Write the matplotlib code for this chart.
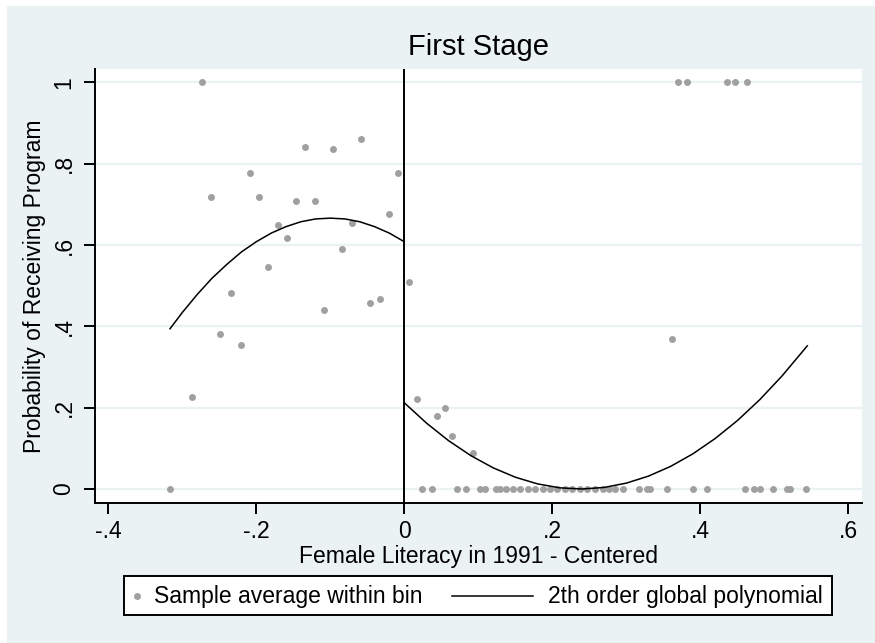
import matplotlib
matplotlib.use("Agg")
import matplotlib.pyplot as plt
from matplotlib.patches import Rectangle
from matplotlib.lines import Line2D

plt.rcParams['font.family'] = ['Liberation Sans', 'DejaVu Sans']

# ---- data ----
bin_x_left = [-0.3166, -0.2865, -0.274, -0.261, -0.249, -0.234, -0.221, -0.209,
              -0.196, -0.184, -0.171, -0.1585, -0.146, -0.134, -0.121, -0.1085,
              -0.096, -0.084, -0.071, -0.0585, -0.046, -0.033, -0.021, -0.0085]
bin_y_left = [0.0, 0.226, 1.0, 0.718, 0.381, 0.481, 0.353, 0.778,
              0.718, 0.545, 0.650, 0.618, 0.709, 0.841, 0.709, 0.440,
              0.837, 0.590, 0.654, 0.860, 0.458, 0.467, 0.677, 0.778]

bin_x_right = [0.0064, 0.0168, 0.0242, 0.037, 0.044, 0.0546, 0.0645, 0.0716, 0.083,
               0.0924, 0.1023, 0.1095, 0.1235, 0.129, 0.1374, 0.147, 0.157, 0.167,
               0.177, 0.187, 0.197, 0.2068, 0.2168, 0.2266, 0.2374, 0.2473, 0.2573,
               0.269, 0.277, 0.285, 0.295, 0.3176, 0.3276, 0.332, 0.3546, 0.362,
               0.3694, 0.3824, 0.3897, 0.4095, 0.4357, 0.4473, 0.4604, 0.4627,
               0.473, 0.4807, 0.4978, 0.5168, 0.521, 0.5424]
bin_y_right = [0.508, 0.221, 0.0, 0.0, 0.180, 0.199, 0.131, 0.0, 0.0,
               0.089, 0.0, 0.0, 0.0, 0.0, 0.0, 0.0, 0.0, 0.0,
               0.0, 0.0, 0.0, 0.0, 0.0, 0.0, 0.0, 0.0, 0.0,
               0.0, 0.0, 0.0, 0.0, 0.0, 0.0, 0.0, 0.0, 0.368,
               1.0, 1.0, 0.0, 0.0, 1.0, 1.0, 0.0, 1.0,
               0.0, 0.0, 0.0, 0.0, 0.0, 0.0]

fit_x_left = [-0.3166, -0.30, -0.28, -0.26, -0.24, -0.22, -0.20, -0.18, -0.16,
              -0.14, -0.12, -0.10, -0.08, -0.06, -0.04, -0.02, 0.0]
fit_y_left = [0.394, 0.434, 0.478, 0.518, 0.552, 0.583, 0.608, 0.629, 0.645,
              0.657, 0.664, 0.666, 0.664, 0.657, 0.645, 0.629, 0.608]

fit_x_right = [0.0, 0.03, 0.06, 0.09, 0.12, 0.15, 0.18, 0.21, 0.24, 0.27,
               0.30, 0.33, 0.36, 0.39, 0.42, 0.45, 0.48, 0.51, 0.5446]
fit_y_right = [0.212, 0.162, 0.1186, 0.082, 0.0521, 0.029, 0.0126, 0.0029, 0.0, 0.0038,
               0.0144, 0.0317, 0.0557, 0.0865, 0.124, 0.168, 0.219, 0.277, 0.352]

x_ticks = [-0.4, -0.2, 0.0, 0.2, 0.4, 0.6]
x_tick_labels = ['-.4', '-.2', '0', '.2', '.4', '.6']
y_ticks = [0.0, 0.2, 0.4, 0.6, 0.8, 1.0]
y_tick_labels = ['0', '.2', '.4', '.6', '.8', '1']

title = 'First Stage'
x_label = 'Female Literacy in 1991 - Centered'
y_label = 'Probability of Receiving Program'
legend_labels = ['Sample average within bin', '2th order global polynomial']

# ---- style ----
W, H = 875, 643
BG = '#EAF2F3'
DOT = '#A0A0A0'
FS = 16.5
MS = 5.0

fig = plt.figure(figsize=(W / 100, H / 100), dpi=100, facecolor='white')
fig.add_artist(Rectangle((7 / W, 0), 1 - 7 / W, 1 - 6 / H, transform=fig.transFigure,
                         facecolor=BG, edgecolor='none', zorder=-10))

ax = fig.add_axes([95 / W, 1 - 503 / H, (862 - 95) / W, (503 - 69) / H])
ax.set_facecolor('white')
ax.set_xlim((95 - 404.3) / 740, (862 - 404.3) / 740)
ax.set_ylim((489 - 503) / 406.7, (489 - 69) / 406.7)

for s in ['top', 'right']:
    ax.spines[s].set_visible(False)
for s in ['left', 'bottom']:
    ax.spines[s].set_linewidth(1.4)
    ax.spines[s].set_color('black')

ax.set_xticks(x_ticks)
ax.set_xticklabels(x_tick_labels)
ax.set_yticks(y_ticks)
ax.set_yticklabels(y_tick_labels, rotation=90, va='center')
ax.tick_params(axis='both', length=8, width=1.4, color='black', labelsize=FS,
               labelcolor='black', direction='out')
ax.tick_params(axis='x', pad=4.5)
ax.tick_params(axis='y', pad=6)

ax.yaxis.grid(True, color=BG, linewidth=1.6)
ax.xaxis.grid(False)
ax.set_axisbelow(True)

ax.axvline(0, color='black', linewidth=1.4, zorder=3)

ax.plot(bin_x_left, bin_y_left, 'o', color=DOT, markersize=MS, markeredgewidth=0, zorder=4)
ax.plot(bin_x_right, bin_y_right, 'o', color=DOT, markersize=MS, markeredgewidth=0, zorder=4)
ax.plot(fit_x_left, fit_y_left, color='black', linewidth=1.1, zorder=5)
ax.plot(fit_x_right, fit_y_right, color='black', linewidth=1.1, zorder=5)

ax.set_title(title, fontsize=21, color='black', pad=10)
ax.set_xlabel(x_label, fontsize=FS, color='black', labelpad=1)
ax.set_ylabel(y_label, fontsize=FS, color='black', labelpad=5)

# ---- legend box ----
lx0, lx1, ly0, ly1 = 124, 832, 576, 615
fig.add_artist(Rectangle((lx0 / W, 1 - ly1 / H), (lx1 - lx0) / W, (ly1 - ly0) / H,
                         transform=fig.transFigure, facecolor='white',
                         edgecolor='black', linewidth=1.4, zorder=5))
yc = 1 - 596 / H
fig.add_artist(Line2D([137 / W], [yc], marker='o', color=DOT, markersize=MS,
                      markeredgewidth=0, linestyle='none', transform=fig.transFigure, zorder=6))
fig.text(154 / W, yc, legend_labels[0], fontsize=FS, va='center', ha='left', zorder=6)
fig.add_artist(Line2D([452 / W, 533 / W], [yc, yc], color='black', linewidth=1.1,
                      transform=fig.transFigure, zorder=6))
fig.text(548 / W, yc, legend_labels[1], fontsize=FS, va='center', ha='left', zorder=6)

fig.savefig('out.png', dpi=100, facecolor=fig.get_facecolor())
